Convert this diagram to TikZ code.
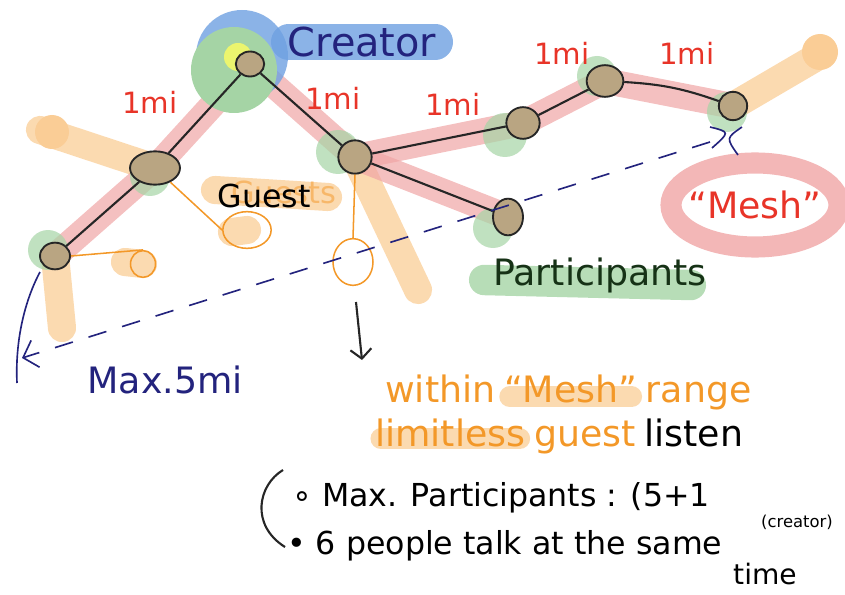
\documentclass[tikz,border=0pt]{standalone}
\usepackage{fontspec}
\setmainfont{DejaVu Sans}
\usepackage{xcolor}
\usepackage{tikz}
\usetikzlibrary{shapes.geometric, arrows.meta, backgrounds, calc}
\definecolor{inkred}{RGB}{232,52,40}
\definecolor{inknavy}{RGB}{35,35,125}
\definecolor{inkorange}{RGB}{243,152,40}
\definecolor{inkgreen}{RGB}{22,50,22}
\definecolor{hlpink}{RGB}{240,165,165}
\definecolor{hlgreen}{RGB}{165,212,165}
\definecolor{hlorange}{RGB}{250,205,150}
\definecolor{hlblue}{RGB}{110,160,225}
\definecolor{hlyellow}{RGB}{235,245,110}
\definecolor{nodefill}{RGB}{185,165,130}

\begin{document}
\begin{tikzpicture}[x=0.03cm, y=-0.03cm,
    person/.style={ellipse, draw=black!85, line width=1.6pt, fill=nodefill, inner sep=0pt},
    guest/.style={ellipse, draw=inkorange, line width=1.3pt, inner sep=0pt},
    link/.style={draw=black!85, line width=1.8pt},
    guestline/.style={draw=inkorange, line width=1.3pt},
    navyline/.style={draw=inknavy, line width=1.4pt},
    mi/.style={text=inkred, font=\fontsize{25}{27}\selectfont},
    pinkhl/.style={draw=hlpink, line width=22pt, opacity=0.7, line cap=round, line join=round},
    orangehl/.style={draw=hlorange, line width=24pt, opacity=0.75, line cap=round, line join=round},
    greenhl/.style={fill=hlgreen, opacity=0.7},
    big/.style={font=\fontsize{31}{33}\selectfont},
    small/.style={font=\fontsize{27}{29}\selectfont}]
    \useasboundingbox (0, 0) rectangle (845, 595);

    % People in the mesh
    \node[person, minimum width=0.9cm, minimum height=0.8cm] (p1) at (55, 256) {};
    \node[person, minimum width=1.5cm, minimum height=1.0cm] (p2) at (155, 168) {};
    \node[person, minimum width=0.85cm, minimum height=0.75cm] (cr) at (250, 64) {};
    \node[person, minimum width=1.0cm, minimum height=1.0cm] (hub) at (355, 157) {};
    \node[person, minimum width=0.9cm, minimum height=1.1cm] (p4) at (508, 217) {};
    \node[person, minimum width=1.0cm, minimum height=0.95cm] (p5) at (523, 123) {};
    \node[person, minimum width=1.1cm, minimum height=0.95cm] (p6) at (605, 81) {};
    \node[person, minimum width=0.85cm, minimum height=0.85cm] (p7) at (733, 106) {};

    % Links
    \draw[link] (p1) -- (p2);
    \draw[link] (p2) -- (cr);
    \draw[link] (cr) -- (hub);
    \draw[link] (hub) -- (p5);
    \draw[link] (p5) -- (p6);
    \draw[link] (p6) to[bend left=8] (p7);
    \draw[link] (hub) -- (p4);

    % Distances
    \node[mi] (m1) at (150, 102) {1mi};
    \node[mi] (m2) at (333, 98) {1mi};
    \node[mi] (m3) at (453, 104) {1mi};
    \node[mi] (m4) at (562, 53) {1mi};
    \node[mi] (m5) at (687, 53) {1mi};

    % Guests
    \node[guest, minimum width=0.75cm, minimum height=0.8cm] (gA) at (143, 264) {};
    \node[guest, minimum width=1.45cm, minimum height=1.1cm] (gB) at (247, 230) {};
    \node[guest, minimum width=1.2cm, minimum height=1.4cm] (gC) at (353, 262) {};
    \draw[guestline] (p1.east) -- (gA.north);
    \draw[guestline] (p2) -- (gB.west);
    \draw[guestline] (hub.south) -- (gC.north);
    \node[text=inkorange!70, font=\fontsize{26}{28}\selectfont] (lguests) at (284, 192) {Guests};
    \node[font=\fontsize{27}{29}\selectfont] (lguest) at (264, 196) {Guest};

    % Labels
    \node[text=inknavy, font=\fontsize{34}{36}\selectfont] (lcr) at (362, 42) {Creator};
    \node[text=inkgreen, big] (lpart) at (600, 275) {Participants};
    \node[text=inkred, font=\fontsize{31}{33}\selectfont] (lmesh) at (755, 205) {“Mesh”};

    % Range of the mesh
    \coordinate (dashA) at (710, 142);
    \coordinate (dashB) at (22, 358);
    \draw[navyline, dash pattern=on 16pt off 14pt, -{Straight Barb[length=11pt, width=24pt]}] (dashA) -- (dashB);
    \draw[navyline] (40, 272) .. controls (25, 300) and (15, 340) .. (17, 383);
    \draw[navyline] (710, 127) .. controls (730, 132) .. (712, 148);
    \draw[navyline] (742, 127) .. controls (726, 138) .. (738, 155);
    \node[text=inknavy, big] (lmax) at (165, 380) {Max.5mi};

    % Guests note
    \coordinate (arrS) at (356, 302);
    \coordinate (arrE) at (362, 360);
    \draw[link, -{Straight Barb[length=8pt, width=18pt]}] (arrS) -- (arrE);
    \node[text=inkorange, big, anchor=base west, inner sep=0pt] (lw1) at (385, 402) {within};
    \node[text=inkorange, big, anchor=base west, inner sep=0pt, xshift=7pt] (lw2) at (lw1.base east) {“Mesh”};
    \node[text=inkorange, big, anchor=base west, inner sep=0pt, xshift=7pt] (lw3) at (lw2.base east) {range};
    \node[text=inkorange, big, anchor=base west, inner sep=0pt] (ll1) at (375, 446) {limitless};
    \node[text=inkorange, big, anchor=base west, inner sep=0pt, xshift=7pt] (ll2) at (ll1.base east) {guest};
    \node[big, anchor=base west, inner sep=0pt, xshift=7pt] (ll3) at (ll2.base east) {listen};

    % Rules
    \draw[link] (283, 470) .. controls (258, 485) and (250, 525) .. (285, 547);
    \node[small, anchor=base west, inner sep=0pt] (lb1) at (292, 506) {∘ Max. Participants : (5+1};
    \node[font=\fontsize{14}{15}\selectfont] (lcrs) at (797, 522) {(creator)};
    \node[small, anchor=base west, inner sep=0pt] (lb2) at (287, 554) {• 6 people talk at the same};
    \node[font=\fontsize{24}{26}\selectfont, inner sep=0pt] (ltime) at (765, 574) {time};

    % Highlighter strokes
    \begin{pgfonlayer}{background}
        \draw[orangehl] (p1.center) -- (62, 328);
        \draw[orangehl] (p2.center) -- (40, 130);
        \fill[hlorange] (52, 132) circle (17);
        \draw[orangehl] (gA.center) -- (125, 262);
        \draw[orangehl] (gB.center) -- (232, 232);
        \draw[orangehl] (215, 190) -- (328, 197);
        \draw[orangehl] (hub.center) -- (418, 290);
        \draw[orangehl] (p7.center) -- (815, 58);
        \fill[hlorange] (820, 52) circle (18);
        \draw[orangehl, line width=18pt] ($(lw2.south west)+(6, -6)$) -- ($(lw2.south east)+(-6, -6)$);
        \draw[orangehl, line width=18pt] ($(ll1.south west)+(6, -8)$) -- ($(ll1.south east)+(-6, -8)$);
        \draw[pinkhl] (p1.center) -- (p2.center) -- (cr.center) -- (hub.center) -- (p5.center) -- (p6.center) -- (p7.center);
        \draw[pinkhl] (hub.center) -- (p4.center);
        \draw[draw=hlpink, line width=18pt, opacity=0.8] (lmesh) ellipse [x radius=84, y radius=42];
        \fill[greenhl] (48, 250) circle (20);
        \fill[greenhl] (150, 176) circle (20);
        \fill[greenhl] (338, 152) circle (22);
        \fill[greenhl] (505, 135) circle (22);
        \fill[greenhl] (597, 76) circle (20);
        \fill[greenhl] (727, 112) circle (20);
        \fill[greenhl] (493, 228) circle (20);
        \draw[draw=hlgreen, line width=26pt, opacity=0.8, line cap=round] ($(lpart.west)+(-5, 5)$) -- ($(lpart.east)+(-20, 10)$);
        \fill[hlblue, opacity=0.8] (242, 56) circle (46);
        \draw[draw=hlblue, line width=30pt, opacity=0.8, line cap=round] ($(lcr.west)+(5, 0)$) -- ($(lcr.east)+(-5, 0)$);
        \fill[hlgreen] (234, 70) circle (43);
        \fill[hlyellow] (238, 57) circle (14);
    \end{pgfonlayer}
\end{tikzpicture}
\end{document}
